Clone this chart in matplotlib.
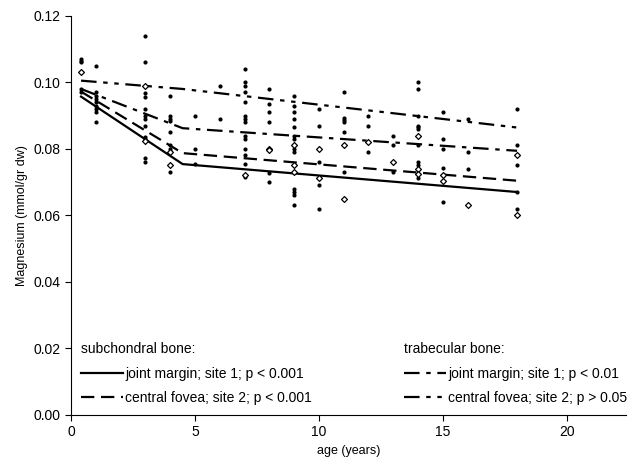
import numpy as np
import matplotlib.pyplot as plt

plt.rcParams['font.family'] = ['Liberation Sans', 'DejaVu Sans']

# individual measurements (filled symbols), age in years / Mg in mmol/gr dw
dot_age = [0.4, 0.4, 0.4, 0.4, 0.4,
           1, 1, 1, 1, 1, 1, 1, 1, 1,
           3, 3, 3, 3, 3, 3, 3, 3, 3, 3, 3, 3,
           4, 4, 4, 4, 4, 4, 4, 4,
           5, 5, 5,
           6, 6,
           7, 7, 7, 7, 7, 7, 7, 7, 7, 7, 7, 7, 7, 7,
           8, 8, 8, 8, 8, 8,
           9, 9, 9, 9, 9, 9, 9, 9, 9, 9, 9, 9, 9,
           10, 10, 10, 10, 10,
           11, 11, 11, 11, 11, 11,
           12, 12, 12,
           13, 13, 13,
           14, 14, 14, 14, 14, 14, 14, 14, 14, 14,
           15, 15, 15, 15, 15,
           16, 16, 16,
           18, 18, 18, 18, 18]
dot_mg = [0.107, 0.1065, 0.106, 0.098, 0.097,
          0.105, 0.097, 0.096, 0.095, 0.094, 0.093, 0.092, 0.091, 0.088,
          0.114, 0.106, 0.0968, 0.0955, 0.0921, 0.0898, 0.0889, 0.087, 0.0835, 0.0829, 0.0771, 0.0759,
          0.096, 0.0898, 0.089, 0.0885, 0.085, 0.081, 0.0799, 0.073,
          0.090, 0.080, 0.0754,
          0.099, 0.089,
          0.104, 0.100, 0.099, 0.097, 0.094, 0.090, 0.089, 0.088, 0.084, 0.083, 0.080, 0.078, 0.0755, 0.0715,
          0.098, 0.0936, 0.091, 0.088, 0.0727, 0.070,
          0.096, 0.093, 0.091, 0.089, 0.0865, 0.084, 0.083, 0.080, 0.079, 0.0678, 0.067, 0.0662, 0.063,
          0.092, 0.087, 0.076, 0.069, 0.062,
          0.097, 0.0893, 0.0887, 0.088, 0.085, 0.073,
          0.090, 0.087, 0.079,
          0.084, 0.081, 0.073,
          0.100, 0.098, 0.090, 0.087, 0.0865, 0.086, 0.081, 0.076, 0.075, 0.0712,
          0.091, 0.083, 0.080, 0.0742, 0.064,
          0.089, 0.079, 0.074,
          0.092, 0.081, 0.075, 0.067, 0.062]

# individual measurements (open diamonds)
dia_age = [0.4, 3, 3, 4, 4, 7, 8, 8, 9, 9, 9, 10, 10, 11, 11, 12, 13, 14, 14, 14, 15, 15, 16, 18, 18]
dia_mg = [0.103, 0.099, 0.0822, 0.079, 0.0752, 0.0722, 0.080, 0.0795, 0.081, 0.075, 0.0731,
          0.080, 0.0712, 0.081, 0.065, 0.082, 0.076, 0.084, 0.074, 0.0725, 0.0722, 0.0702,
          0.063, 0.078, 0.060]

# fitted curves (break at 4.5 years)
fit_age = [0.4, 4.5, 18]
sub_site1 = [0.0957, 0.0754, 0.067]
sub_site2 = [0.0972, 0.0787, 0.0704]
trab_site1 = [0.098, 0.0862, 0.0794]
trab_site2 = [0.1005, 0.098, 0.0864]

fig = plt.figure(figsize=(6.35, 4.65), dpi=100)
ax = fig.add_axes([0.112, 0.108, 0.874, 0.858])

ax.scatter(dot_age, dot_mg, s=9, c='black', marker='o', linewidths=0, zorder=3)
ax.scatter(dia_age, dia_mg, s=9, facecolors='white', edgecolors='black',
           marker='D', linewidths=0.9, zorder=4)

l1, = ax.plot(fit_age, sub_site1, color='black', lw=1.6, ls='-')
l2, = ax.plot(fit_age, sub_site2, color='black', lw=1.6, ls=(0, (6, 3)))
l3, = ax.plot(fit_age, trab_site1, color='black', lw=1.6, ls=(0, (7, 3, 2, 3)))
l4, = ax.plot(fit_age, trab_site2, color='black', lw=1.6, ls=(0, (7, 3, 2, 3, 2, 3)))

ax.set_xlim(0, 22.4)
ax.set_ylim(0, 0.12)
ax.set_xticks([0, 5, 10, 15, 20])
ax.set_yticks(np.arange(0, 0.121, 0.02))
ax.yaxis.set_major_formatter(plt.FormatStrFormatter('%.2f'))
ax.spines['top'].set_visible(False)
ax.spines['right'].set_visible(False)
ax.tick_params(direction='out', length=4, labelsize=10)
ax.set_xlabel('age (years)', fontsize=9)
ax.set_ylabel('Magnesium (mmol/gr dw)', fontsize=9)

leg1 = ax.legend([l1, l2], ['joint margin; site 1; p < 0.001', 'central fovea; site 2; p < 0.001'],
                 title='subchondral bone:', loc='lower left', bbox_to_anchor=(0.0, 0.0),
                 frameon=False, fontsize=10, title_fontsize=10, handlelength=3.0,
                 handletextpad=0.2, alignment='left', labelspacing=0.75, borderaxespad=0.3)
ax.add_artist(leg1)
ax.legend([l3, l4], ['joint margin; site 1; p < 0.01', 'central fovea; site 2; p > 0.05'],
          title='trabecular bone:', loc='lower left', bbox_to_anchor=(0.582, 0.0),
          frameon=False, fontsize=10, title_fontsize=10, handlelength=3.0,
          handletextpad=0.2, alignment='left', labelspacing=0.75, borderaxespad=0.3)

fig.savefig('out.png', dpi=100)
